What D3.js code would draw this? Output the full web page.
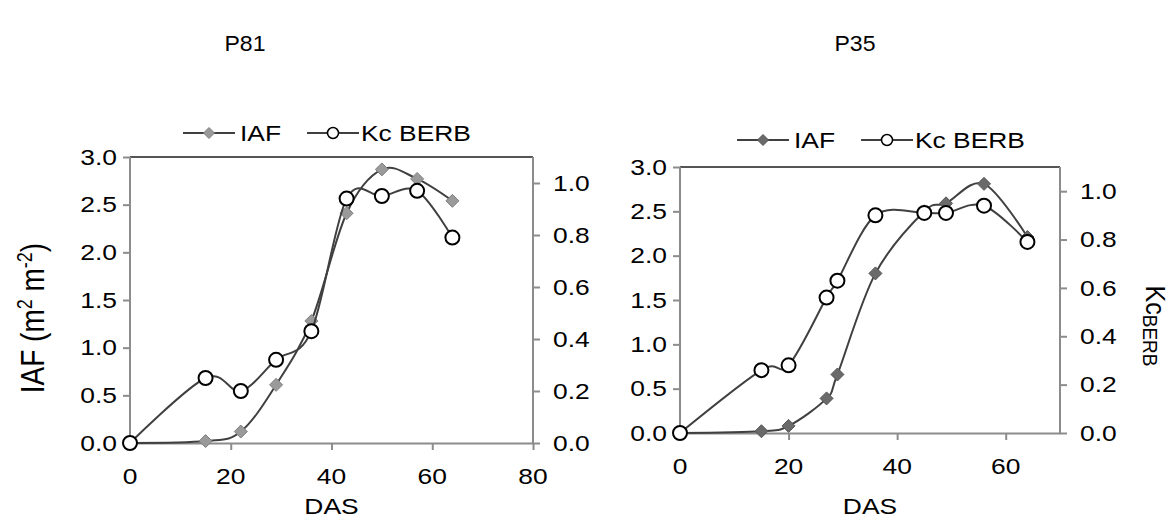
<!DOCTYPE html>
<html>
<head>
<meta charset="utf-8">
<script src="https://cdn.jsdelivr.net/npm/d3@7"></script>
<style>
  body { margin: 0; background: #fff; }
  svg text { font-family: "Liberation Sans", Arial, sans-serif; fill: #000; }
</style>
</head>
<body>
<div id="chart"></div>
<script>
// values (DAS = days after sowing)
var dasP81 = [0, 15, 22, 29, 36, 43, 50, 57, 64];
var iafP81 = [0, 0.02, 0.12, 0.61, 1.28, 2.41, 2.87, 2.77, 2.54];
var kcP81 = [0, 0.25, 0.20, 0.32, 0.43, 0.94, 0.95, 0.97, 0.79];

var dasP35 = [0, 15, 20, 27, 29, 36, 45, 49, 56, 64];
var iafP35 = [0, 0.02, 0.08, 0.39, 0.66, 1.80, 2.50, 2.59, 2.81, 2.21];
var kcP35 = [0, 0.26, 0.28, 0.56, 0.63, 0.90, 0.91, 0.91, 0.94, 0.79];

var iafTicks = [0, 0.5, 1, 1.5, 2, 2.5, 3];
var kcTicks = [0, 0.2, 0.4, 0.6, 0.8, 1.0];
var legendLabels = ['IAF', 'Kc BERB'];

var W = 1174, H = 519;
var SX = 1.2; // text in the reference is drawn wide
var FS = 22;

var svg = d3.select('#chart').append('svg')
  .attr('width', W)
  .attr('height', H);

function wideText(g, x, y, str, size, anchor, sx) {
  return g.append('text')
    .attr('transform', 'translate(' + x + ',' + y + ') scale(' + (sx || SX) + ',1)')
    .attr('font-size', size + 'px')
    .attr('text-anchor', anchor || 'start')
    .attr('dominant-baseline', 'central')
    .text(str);
}

function diamond(g, x, y, fill, stroke, r) {
  g.append('path')
    .attr('d', 'M' + x + ',' + (y - r) + 'L' + (x + r) + ',' + y + 'L' + x + ',' + (y + r) + 'L' + (x - r) + ',' + y + 'Z')
    .attr('fill', fill)
    .attr('stroke', stroke)
    .attr('stroke-width', 1);
}

function styleAxis(sel) {
  sel.selectAll('.domain').attr('stroke', '#8c8c8c').attr('stroke-width', 2);
  sel.selectAll('.tick line').attr('stroke', '#8c8c8c').attr('stroke-width', 2);
  sel.selectAll('.tick text').remove();
}

function drawPanel(p) {
  var g = svg.append('g').attr('transform', 'translate(' + p.left + ',' + p.top + ')');
  var w = p.width, h = p.height;

  var x = d3.scaleLinear().domain([0, p.xMax]).range([0, w]);
  var yL = d3.scaleLinear().domain([0, 3]).range([h, 0]);
  var yR = d3.scaleLinear().domain([0, 1.1]).range([h, 0]);

  // top border of the plot area
  g.append('line').attr('x1', 0).attr('x2', w).attr('y1', 0).attr('y2', 0)
    .attr('stroke', '#555').attr('stroke-width', 2);

  var ax = g.append('g').attr('transform', 'translate(0,' + h + ')')
    .call(d3.axisBottom(x).tickValues(p.xTicks).tickSize(7).tickSizeOuter(0));
  styleAxis(ax);
  p.xTicks.forEach(function(t) {
    wideText(g, x(t), h + 33, String(t), FS, 'middle');
  });

  var al = g.append('g')
    .call(d3.axisLeft(yL).tickValues(iafTicks).tickSize(7).tickSizeOuter(0));
  styleAxis(al);
  al.select('.domain').attr('d', 'M0,' + h + 'V0');
  iafTicks.forEach(function(t) {
    wideText(g, -13, yL(t), d3.format('.1f')(t), FS, 'end');
  });

  var ar = g.append('g').attr('transform', 'translate(' + w + ',0)')
    .call(d3.axisRight(yR).tickValues(kcTicks).tickSize(7).tickSizeOuter(0));
  styleAxis(ar);
  ar.select('.domain').attr('d', 'M0,' + h + 'V0');
  kcTicks.forEach(function(t) {
    wideText(g, w + 20, yR(t), d3.format('.1f')(t), FS, 'start');
  });

  wideText(svg, p.left + w / 2, 506, 'DAS', FS, 'middle');
  wideText(svg, p.left + p.titleX, 44, p.title, 22, 'middle', 1.05);

  var line = d3.line().curve(d3.curveCardinal.tension(0));

  var iafPts = p.das.map(function(d, i) { return [x(d), yL(p.iaf[i])]; });
  var kcPts = p.das.map(function(d, i) { return [x(d), yR(p.kc[i])]; });

  g.append('path').attr('d', line(iafPts))
    .attr('fill', 'none').attr('stroke', '#404040').attr('stroke-width', 2);
  iafPts.forEach(function(pt) { diamond(g, pt[0], pt[1], p.diamondFill, p.diamondStroke, 6.5); });

  g.append('path').attr('d', line(kcPts))
    .attr('fill', 'none').attr('stroke', '#404040').attr('stroke-width', 2);
  g.selectAll('circle.kc').data(kcPts).enter().append('circle')
    .attr('class', 'kc')
    .attr('cx', function(d) { return d[0]; })
    .attr('cy', function(d) { return d[1]; })
    .attr('r', 7)
    .attr('fill', '#fff').attr('stroke', '#000').attr('stroke-width', 2);

  // legend
  var lg = svg.append('g').attr('transform', 'translate(' + p.legendX + ',' + p.legendY + ')');
  lg.append('line').attr('x1', 0).attr('x2', 52).attr('y1', 0).attr('y2', 0)
    .attr('stroke', '#404040').attr('stroke-width', 2);
  diamond(lg, 26, 0, p.diamondFill, p.diamondStroke, 5.5);
  wideText(lg, 57, 0, legendLabels[0], FS, 'start');
  lg.append('line').attr('x1', 124).attr('x2', 176).attr('y1', 0).attr('y2', 0)
    .attr('stroke', '#404040').attr('stroke-width', 2);
  lg.append('circle').attr('cx', 150).attr('cy', 0).attr('r', 5.5)
    .attr('fill', '#fff').attr('stroke', '#000').attr('stroke-width', 1.5);
  wideText(lg, 178, 0, legendLabels[1], FS, 'start');
}

drawPanel({
  title: 'P81', titleX: 115,
  left: 130, top: 157, width: 403, height: 286,
  xMax: 80, xTicks: [0, 20, 40, 60, 80],
  das: dasP81, iaf: iafP81, kc: kcP81,
  diamondFill: '#9a9a9a', diamondStroke: '#808080',
  legendX: 183, legendY: 133
});

drawPanel({
  title: 'P35', titleX: 175,
  left: 680, top: 167, width: 380, height: 266,
  xMax: 70, xTicks: [0, 20, 40, 60],
  das: dasP35, iaf: iafP35, kc: kcP35,
  diamondFill: '#6a6a6a', diamondStroke: '#555',
  legendX: 737, legendY: 140
});

// axis titles
var yl = svg.append('text')
  .attr('transform', 'translate(44,318) scale(1.2,1) rotate(-90)')
  .attr('font-size', '28px')
  .attr('text-anchor', 'middle');
yl.append('tspan').text('IAF (m');
yl.append('tspan').attr('baseline-shift', 'super').attr('font-size', '18px').text('2');
yl.append('tspan').text(' m');
yl.append('tspan').attr('baseline-shift', 'super').attr('font-size', '18px').text('-2');
yl.append('tspan').text(')');

var kl = svg.append('text')
  .attr('transform', 'translate(1146,326) scale(1.1,1) rotate(90)')
  .attr('font-size', '25px')
  .attr('text-anchor', 'middle');
kl.append('tspan').text('Kc');
kl.append('tspan').attr('baseline-shift', '-3').attr('font-size', '19px').text('BERB');
</script>
</body>
</html>
